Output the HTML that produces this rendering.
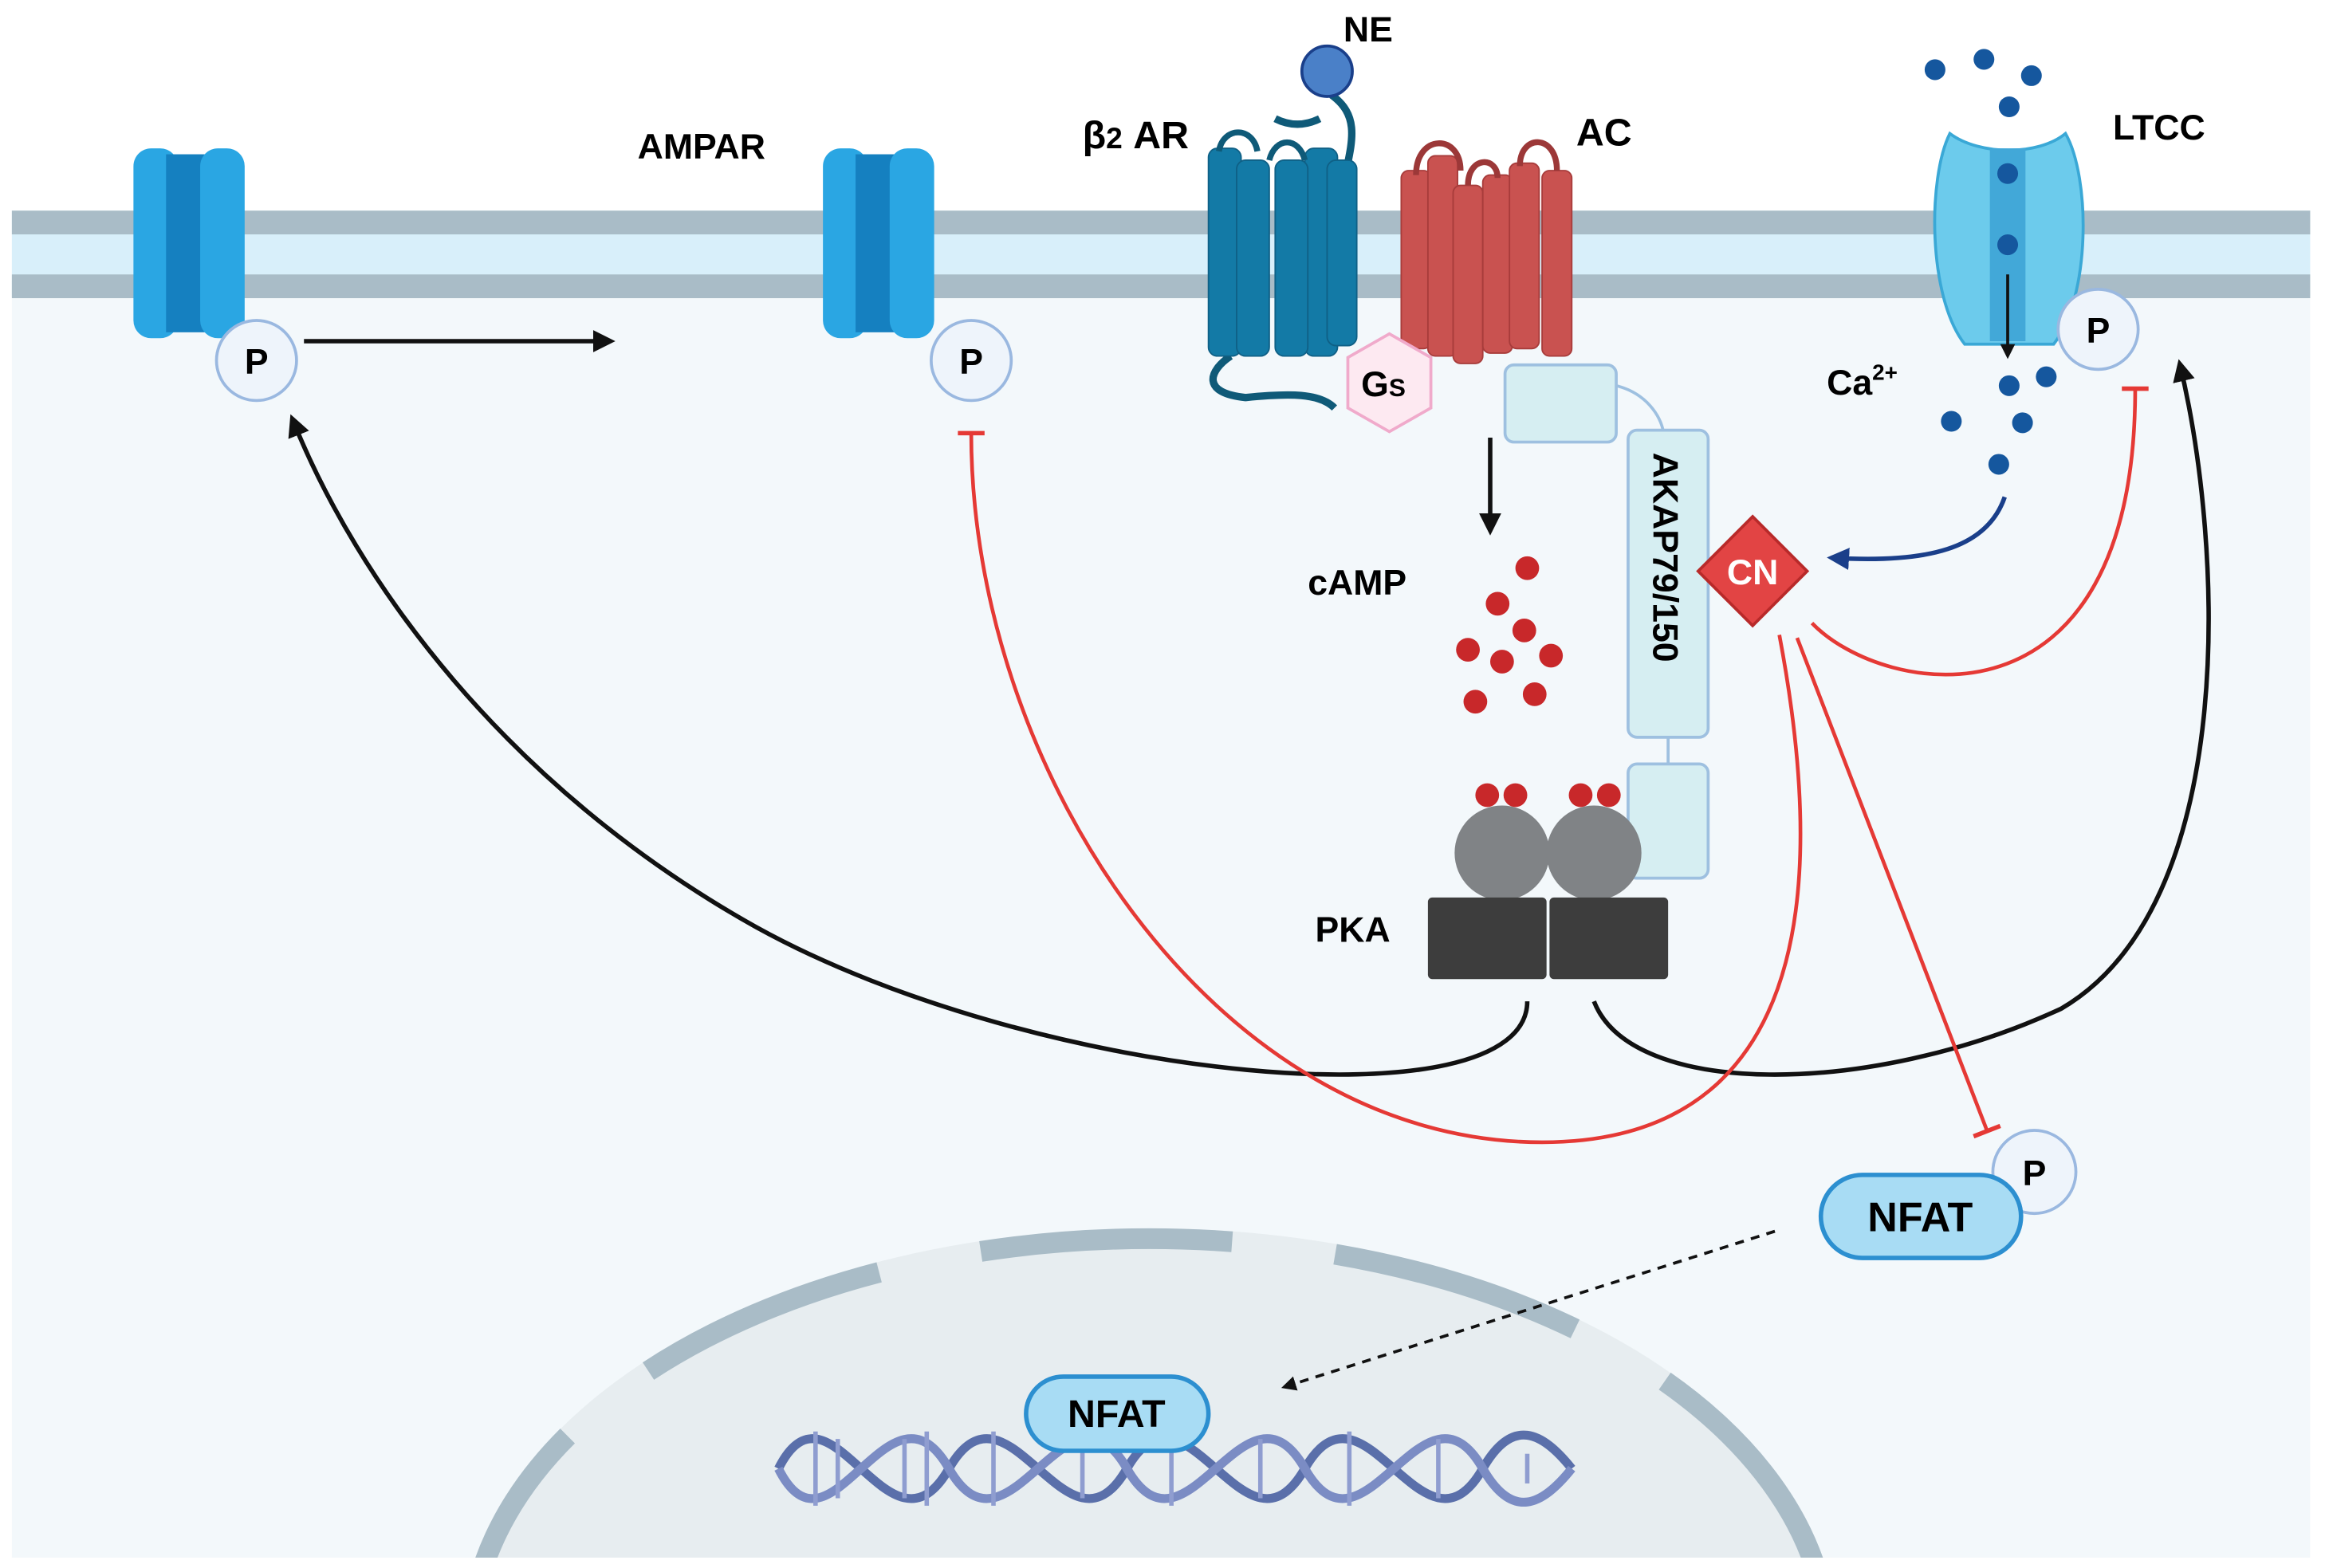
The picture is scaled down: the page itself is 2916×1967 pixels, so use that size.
<!DOCTYPE html>
<html><head><meta charset="utf-8"><style>html,body{margin:0;padding:0;background:#fff;width:2916px;height:1967px;overflow:hidden}svg{display:block}text{font-family:"Liberation Sans",sans-serif;font-weight:bold}</style></head>
<body>
<svg width="2916" height="1967" viewBox="0 0 1568 1057" preserveAspectRatio="none" xmlns="http://www.w3.org/2000/svg">
<defs>
<marker id="ab" viewBox="0 0 10 10" refX="8" refY="5" markerWidth="5" markerHeight="5" orient="auto"><path d="M0,0L10,5L0,10z" fill="#111"/></marker>
<marker id="abl" viewBox="0 0 10 10" refX="8" refY="5" markerWidth="5" markerHeight="5" orient="auto"><path d="M0,0L10,5L0,10z" fill="#1a3f8a"/></marker>
<clipPath id="cell"><rect x="8" y="200" width="1550" height="850"/></clipPath>
</defs>
<rect width="1568" height="1057" fill="#fff"/>
<rect x="8" y="190" width="1550" height="860" fill="#f3f8fb"/>
<rect x="8" y="142" width="1550" height="58" fill="#d8effa"/>
<rect x="8" y="142" width="1550" height="16" fill="#a9bcc7"/>
<rect x="8" y="185" width="1550" height="16" fill="#a9bcc7"/>
<g clip-path="url(#cell)">
<ellipse cx="775" cy="1110" rx="465" ry="282" fill="#e7edf0"/>
<ellipse cx="775" cy="1110" rx="458" ry="275" fill="none" stroke="#a9bcc7" stroke-width="14" stroke-dasharray="170 70" stroke-dashoffset="40"/>
</g>
<g id="amp">
<rect x="90" y="100" width="30" height="128" rx="12" fill="#2aa6e3"/>
<rect x="112" y="104" width="30" height="120" fill="#1580c0"/>
<rect x="135" y="100" width="30" height="128" rx="12" fill="#2aa6e3"/>
</g>
<use href="#amp" x="465"/>
<circle cx="173" cy="243" r="27" fill="#eef4fb" stroke="#9ab8e0" stroke-width="2"/>
<text x="173" y="252" font-size="24" text-anchor="middle">P</text>
<circle cx="655" cy="243" r="27" fill="#eef4fb" stroke="#9ab8e0" stroke-width="2"/>
<text x="655" y="252" font-size="24" text-anchor="middle">P</text>
<line x1="205" y1="230" x2="412" y2="230" stroke="#111" stroke-width="3" marker-end="url(#ab)"/>
<text x="430" y="107" font-size="24">AMPAR</text>
<path d="M898,64 C920,80 910,100 905,130" stroke="#0f5a78" stroke-width="5" fill="none"/>
<path d="M860,80 C870,85 880,85 890,80" stroke="#0f5a78" stroke-width="5" fill="none"/>
<circle cx="895" cy="48" r="17" fill="#4a80c8" stroke="#1a3f8a" stroke-width="2"/>
<text x="906" y="28" font-size="24">NE</text>
<text x="730" y="100" font-size="26">β<tspan font-size="20">2</tspan> AR</text>
<path d="M830,240 C815,250 810,265 840,268 C870,265 890,265 900,275" stroke="#0f5a78" stroke-width="5" fill="none"/>
<g fill="#137aa6" stroke="#0f6086" stroke-width="1">
<rect x="815" y="100" width="22" height="140" rx="6"/>
<rect x="880" y="100" width="22" height="140" rx="6"/>
<rect x="834" y="108" width="22" height="132" rx="6"/>
<rect x="860" y="108" width="22" height="132" rx="6"/>
<rect x="895" y="108" width="20" height="125" rx="6"/>
</g>
<path d="M822,102 C825,85 845,85 848,102 M856,108 C860,92 876,92 880,108" stroke="#0f5a78" stroke-width="4" fill="none"/>
<g fill="#c95250" stroke="#a83c3b" stroke-width="1">
<rect x="945" y="115" width="20" height="120" rx="5"/>
<rect x="963" y="105" width="20" height="135" rx="5"/>
<rect x="980" y="125" width="20" height="120" rx="5"/>
<rect x="1000" y="118" width="20" height="120" rx="5"/>
<rect x="1018" y="110" width="20" height="125" rx="5"/>
<rect x="1040" y="115" width="20" height="125" rx="5"/>
</g>
<path d="M955,118 C955,90 985,90 985,115 M1025,112 C1025,90 1050,90 1050,115 M990,125 C990,105 1010,105 1010,120" stroke="#9c3838" stroke-width="4" fill="none"/>
<text x="1063" y="98" font-size="26">AC</text>
<polygon points="937,225 965,241 965,275 937,291 909,275 909,241" fill="#fde9f1" stroke="#f0aacb" stroke-width="2"/>
<text x="918" y="267" font-size="24">G<tspan font-size="17">S</tspan></text>
<path d="M1090,260 C1110,265 1120,280 1122,292 M1125,497 L1125,515" stroke="#9ec0e0" stroke-width="2" fill="none"/>
<rect x="1015" y="246" width="75" height="52" rx="6" fill="#d6eef2" stroke="#9ec0e0" stroke-width="2"/>
<rect x="1098" y="290" width="54" height="207" rx="6" fill="#d6eef2" stroke="#9ec0e0" stroke-width="2"/>
<rect x="1098" y="515" width="54" height="77" rx="6" fill="#d6eef2" stroke="#9ec0e0" stroke-width="2"/>
<text font-size="24" transform="translate(1115,305) rotate(90)">AKAP79/150</text>
<line x1="1005" y1="295" x2="1005" y2="358" stroke="#111" stroke-width="3" marker-end="url(#ab)"/>
<text x="882" y="401" font-size="24">cAMP</text>
<g fill="#c8282a">
<circle cx="1030" cy="383" r="8"/><circle cx="1010" cy="407" r="8"/><circle cx="1028" cy="425" r="8"/>
<circle cx="990" cy="438" r="8"/><circle cx="1013" cy="446" r="8"/><circle cx="1046" cy="442" r="8"/>
<circle cx="995" cy="473" r="8"/><circle cx="1035" cy="468" r="8"/>
<circle cx="1003" cy="536" r="8"/><circle cx="1022" cy="536" r="8"/><circle cx="1066" cy="536" r="8"/><circle cx="1085" cy="536" r="8"/>
</g>
<circle cx="1013" cy="575" r="32" fill="#808386"/>
<circle cx="1075" cy="575" r="32" fill="#808386"/>
<rect x="963" y="605" width="80" height="55" rx="3" fill="#3d3d3d"/>
<rect x="1045" y="605" width="80" height="55" rx="3" fill="#3d3d3d"/>
<text x="887" y="635" font-size="24">PKA</text>
<path d="M1315,90 C1300,120 1300,200 1325,232 L1385,232 C1410,200 1410,120 1393,90 C1375,105 1335,105 1315,90z" fill="#6ccbec" stroke="#3aa8d6" stroke-width="2"/>
<rect x="1342" y="100" width="24" height="130" fill="#42a8d8"/>
<g fill="#15579e">
<circle cx="1305" cy="47" r="7"/><circle cx="1338" cy="40" r="7"/><circle cx="1370" cy="51" r="7"/><circle cx="1355" cy="72" r="7"/>
<circle cx="1354" cy="117" r="7"/><circle cx="1354" cy="165" r="7"/>
<circle cx="1355" cy="260" r="7"/><circle cx="1380" cy="254" r="7"/><circle cx="1316" cy="284" r="7"/><circle cx="1364" cy="285" r="7"/><circle cx="1348" cy="313" r="7"/>
</g>
<line x1="1354" y1="185" x2="1354" y2="240" stroke="#111" stroke-width="2" marker-end="url(#ab)"/>
<text x="1425" y="94" font-size="24">LTCC</text>
<text x="1232" y="266" font-size="24">Ca<tspan font-size="15" dy="-10">2+</tspan></text>
<circle cx="1415" cy="222" r="27" fill="#eef4fb" stroke="#9ab8e0" stroke-width="2"/>
<text x="1415" y="231" font-size="24" text-anchor="middle">P</text>
<path d="M1030,675 C1030,760 700,730 510,625 C340,530 240,390 197,282" stroke="#111" stroke-width="3" fill="none" marker-end="url(#ab)"/>
<path d="M1075,675 C1100,740 1260,740 1390,680 C1510,610 1500,370 1470,245" stroke="#111" stroke-width="3" fill="none" marker-end="url(#ab)"/>
<path d="M655,292 C655,520 820,770 1040,770 C1240,770 1225,560 1200,428" stroke="#e53935" stroke-width="2.5" fill="none"/>
<line x1="646" y1="292" x2="664" y2="292" stroke="#e53935" stroke-width="3"/>
<path d="M1222,420 C1270,470 1440,500 1440,262" stroke="#e53935" stroke-width="2.5" fill="none"/>
<line x1="1431" y1="262" x2="1449" y2="262" stroke="#e53935" stroke-width="3"/>
<line x1="1212" y1="430" x2="1340" y2="762" stroke="#e53935" stroke-width="2.5"/>
<line x1="1331" y1="766" x2="1349" y2="759" stroke="#e53935" stroke-width="3"/>
<path d="M1352,335 C1340,370 1300,380 1235,376" stroke="#1a3f8a" stroke-width="3" fill="none" marker-end="url(#abl)"/>
<rect x="1156" y="359" width="52" height="52" fill="#e24444" stroke="#b82a2a" stroke-width="2" transform="rotate(45 1182 385)"/>
<text x="1182" y="394" font-size="24" fill="#fff" text-anchor="middle">CN</text>
<circle cx="1372" cy="790" r="28" fill="#eef4fb" stroke="#9ab8e0" stroke-width="2"/>
<text x="1372" y="799" font-size="24" text-anchor="middle">P</text>
<rect x="1228" y="792" width="135" height="56" rx="28" fill="#a8dcf4" stroke="#2c8fd0" stroke-width="3"/>
<text x="1295" y="830" font-size="28" text-anchor="middle">NFAT</text>
<line x1="1197" y1="830" x2="866" y2="935" stroke="#111" stroke-width="2" stroke-dasharray="6 5" marker-end="url(#ab)"/>
<path d="M525,990 C560,920 600,1060 640,990 C680,920 720,1060 760,990 C800,920 840,1060 880,990 C920,920 960,1060 1000,990 C1020,955 1040,965 1060,990" stroke="#5a6faa" stroke-width="6" fill="none"/>
<path d="M525,990 C560,1060 600,920 640,990 C680,1060 720,920 760,990 C800,1060 840,920 880,990 C920,1060 960,920 1000,990 C1020,1025 1040,1015 1060,990" stroke="#7b8cc4" stroke-width="6" fill="none"/>
<g stroke="#8f9dd0" stroke-width="3">
<line x1="550" y1="965" x2="550" y2="1015"/><line x1="565" y1="970" x2="565" y2="1010"/><line x1="610" y1="970" x2="610" y2="1010"/><line x1="625" y1="965" x2="625" y2="1015"/>
<line x1="670" y1="965" x2="670" y2="1015"/><line x1="730" y1="970" x2="730" y2="1010"/><line x1="790" y1="965" x2="790" y2="1015"/><line x1="850" y1="970" x2="850" y2="1010"/>
<line x1="910" y1="965" x2="910" y2="1015"/><line x1="970" y1="970" x2="970" y2="1010"/><line x1="1030" y1="980" x2="1030" y2="1000"/>
</g>
<rect x="692" y="928" width="123" height="50" rx="25" fill="#a8dcf4" stroke="#2c8fd0" stroke-width="3"/>
<text x="753" y="962" font-size="26" text-anchor="middle">NFAT</text>
</svg>
</body></html>
